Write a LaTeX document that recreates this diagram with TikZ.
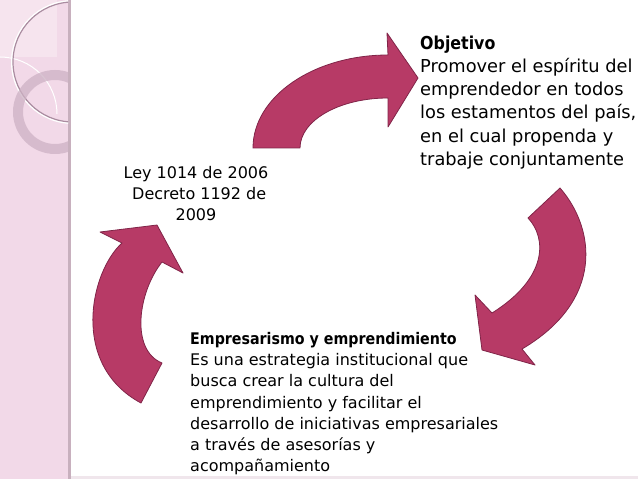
\documentclass[tikz,border=0pt]{standalone}
\usepackage{fontspec}
\setmainfont{DejaVu Sans}
\newfontfamily\fbf{DejaVu Sans}[FakeStretch=0.89]
\definecolor{arrowfill}{RGB}{183,58,102}
\definecolor{arrowline}{RGB}{128,36,72}
\definecolor{strip}{RGB}{242,217,232}
\definecolor{striplight}{RGB}{246,228,238}
\definecolor{stripedge}{RGB}{200,176,190}
\definecolor{ringline}{RGB}{170,140,160}
\definecolor{ringfill}{RGB}{205,178,196}
\definecolor{bottomband}{RGB}{240,230,236}
\begin{document}
\begin{tikzpicture}[x=1bp,y=-1bp,
  arrowshape/.style={fill=arrowfill,draw=arrowline,line width=0.8bp,line join=round},
  txtbig/.style={font=\fontsize{17.8bp}{23.2bp}\selectfont,align=left,inner sep=0pt},
  txtmid/.style={font=\fontsize{16bp}{21.3bp}\selectfont,inner sep=0pt}]
\useasboundingbox (0,0) rectangle (638,479);
\fill[white] (0,0) rectangle (638,479);
% left decorative strip
\fill[strip] (0,0) rectangle (68,479);
\fill[striplight] (0,0) rectangle (57,57);
\fill[stripedge] (68,0) rectangle (71,479);
\fill[bottomband] (71,476) rectangle (638,479);
\begin{scope}
  \clip (0,0) rectangle (68,479);
  \draw[white,line width=1bp] (0,57) arc[start angle=-90,end angle=0,radius=57];
  \draw[white,line width=2bp] (73,62) circle[radius=61];
  \draw[ringline,line width=1.2bp] (73,62) circle[radius=60];
  \fill[ringfill,opacity=0.75,even odd rule] (55,112) circle[radius=42] (55,112) circle[radius=32];
\end{scope}
% top arrow
\draw[arrowshape] (253,148) .. controls (253,96.7) and (313.5,55) .. (388,55)
  -- (387,33) -- (418,78) -- (388,127) -- (388,98)
  .. controls (339.4,98) and (300,120.4) .. (300,148) -- cycle;
% right arrow
\draw[arrowshape] (560,188) .. controls (595,228) and (605,300) .. (522,349)
  -- (535,365) -- (482,350) -- (475,295) -- (492,313)
  .. controls (548,278) and (547,238) .. (528,218) -- cycle;
% left arrow
\draw[arrowshape] (141,403) .. controls (70,365) and (90,272) .. (122,243)
  -- (100,232) -- (157,225) -- (183,273) -- (162,262)
  .. controls (138,292) and (130,350) .. (162,363) -- cycle;
% texts
\node[txtbig,anchor=north west] (obj) at (420,35.6)
  {{\fbf\bfseries Objetivo}\\Promover el espíritu del\\emprendedor en todos\\los estamentos del país,\\en el cual propenda y\\trabaje conjuntamente};
\node[txtmid,align=center,anchor=north] (ley) at (196,165.8)
  {Ley 1014 de 2006\\\hspace*{0.4em}Decreto 1192 de\\2009};
\node[txtmid,align=left,anchor=north west] (emp) at (190,331.8)
  {{\fbf\bfseries Empresarismo y emprendimiento}\\Es una estrategia institucional que\\busca crear la cultura del\\emprendimiento y facilitar el\\desarrollo de iniciativas empresariales\\a través de asesorías y\\acompañamiento};
\end{tikzpicture}
\end{document}
